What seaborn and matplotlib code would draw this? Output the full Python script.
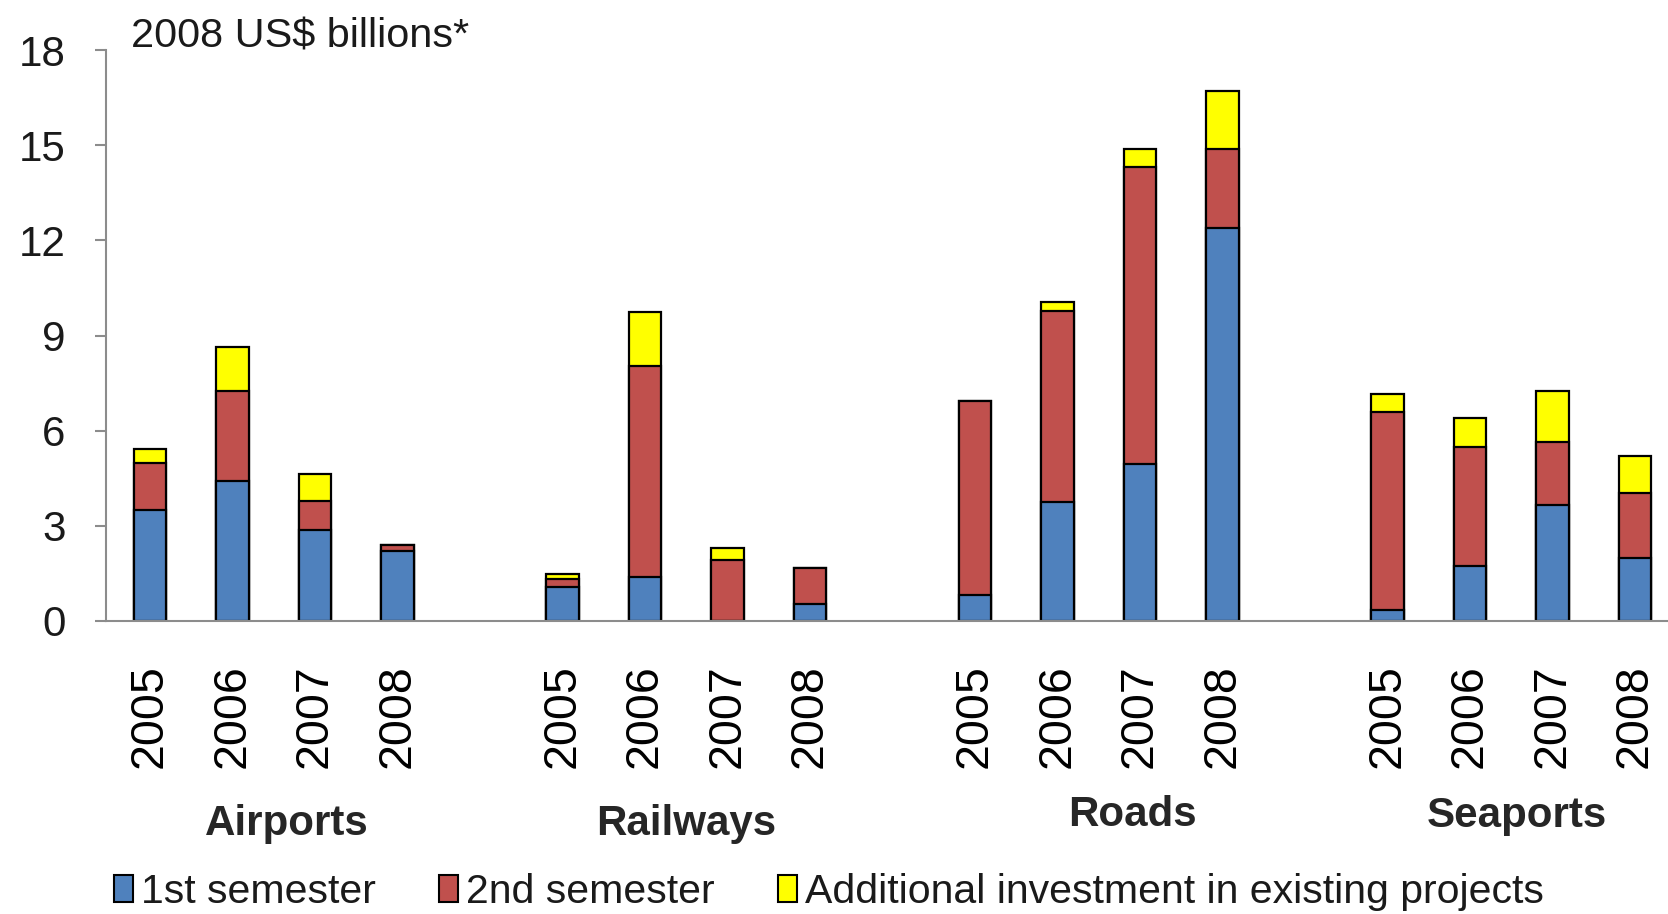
import pandas as pd
import seaborn as sns

from matplotlib import pyplot as plt
from matplotlib import font_manager
from matplotlib.patches import Patch

# values (2008 US$ billions)
sectors = ['Airports', 'Railways', 'Roads', 'Seaports']
years = ['2005', '2006', '2007', '2008']
first_semester = [3.50, 4.42, 2.87, 2.22,
                  1.08, 1.38, 0.00, 0.54,
                  0.82, 3.76, 4.95, 12.40,
                  0.34, 1.74, 3.66, 2.00]
second_semester = [1.48, 2.82, 0.92, 0.18,
                   0.24, 6.67, 1.93, 1.13,
                   6.10, 6.00, 9.36, 2.47,
                   6.24, 3.73, 1.99, 2.03]
additional = [0.44, 1.40, 0.84, 0.00,
              0.15, 1.69, 0.36, 0.00,
              0.00, 0.31, 0.57, 1.83,
              0.58, 0.93, 1.59, 1.18]
series_names = ['1st semester', '2nd semester',
                'Additional investment in existing projects']
colors = ['#4F81BD', '#C0504D', '#FFFF00']

sns.set_style('white')

names = {f.name for f in font_manager.fontManager.ttflist}
if 'Liberation Sans Narrow' in names:
    plt.rcParams['font.family'] = ['Liberation Sans Narrow', 'DejaVu Sans']
    fs = 36
    year_fs = 38
    legend_fs = 35
else:
    plt.rcParams['font.family'] = ['Liberation Sans', 'DejaVu Sans']
    fs = 30.3
    year_fs = 33.5
    legend_fs = 29.5

# one slot per bar, an empty slot between sectors
rows = []
for i, sector in enumerate(sectors):
    for j, year in enumerate(years):
        k = i * 4 + j
        b = first_semester[k]
        r = second_semester[k]
        y = additional[k]
        rows.append({'sector': sector, 'year': year, 'pos': i * 5 + j,
                     'blue': b, 'red': b + r, 'total': b + r + y})
df = pd.DataFrame(rows)

fig = plt.figure(figsize=(16.68, 9.14), dpi=100)
ax = fig.add_axes([106 / 1668, 293 / 914, 1 - 106 / 1668, 571 / 914])

# stacked bars: draw cumulative heights back to front
for col, color in zip(['total', 'red', 'blue'], colors[::-1]):
    sns.barplot(data=df, x='pos', y=col, native_scale=True, width=0.39,
                color=color, saturation=1, edgecolor='black',
                linewidth=1.6, errorbar=None, ax=ax)

ax.set_xlim(-0.533, 18.4)
ax.set_ylim(0, 18)
ax.set_yticks([0, 3, 6, 9, 12, 15, 18])
ax.set_xticks(df['pos'])
ax.set_xticklabels(df['year'], rotation=90, fontsize=year_fs)
ax.set_xlabel('')
ax.set_ylabel('')

for side in ['top', 'right']:
    ax.spines[side].set_visible(False)
for side in ['left', 'bottom']:
    ax.spines[side].set_color('#8c8c8c')
    ax.spines[side].set_linewidth(1.5)

ax.tick_params(axis='y', length=8, width=1.5, color='#8c8c8c', pad=21,
               labelsize=fs, labelcolor='#1a1a1a', left=True)
ax.tick_params(axis='x', length=0, pad=31, labelcolor='black')

fig.text(131 / 1668, 1 - 47 / 914, '2008 US$ billions*', fontsize=fs - 0.5,
         color='#1a1a1a', ha='left', va='baseline')

label_x = [287, 686, 1132, 1517]
label_y = [835, 835, 826, 827]
for name, lx, ly in zip(sectors, label_x, label_y):
    fig.text(lx / 1668, 1 - ly / 914, name, fontsize=fs,
             fontweight='bold', ha='center', va='baseline')

handles = [Patch(facecolor=c, edgecolor='black', linewidth=1.5)
           for c in colors]
fig.legend(handles, series_names, loc='center', ncol=3,
           bbox_to_anchor=(0.497, 1 - 892 / 914), frameon=False,
           fontsize=legend_fs, handlelength=0.45, handleheight=0.62,
           handletextpad=0.2, columnspacing=1.55, borderpad=0,
           labelcolor='#1a1a1a')

fig.savefig('out.png', dpi=100)
